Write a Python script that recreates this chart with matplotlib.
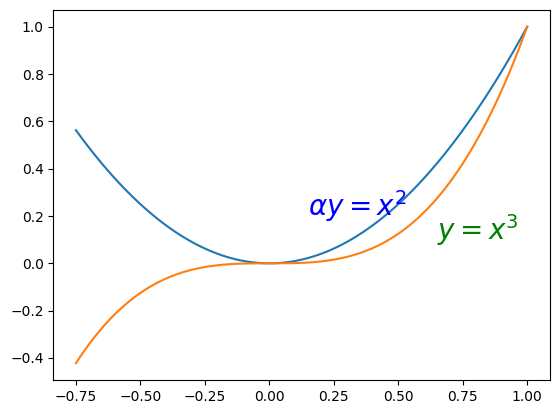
import numpy as np
import matplotlib
matplotlib.use("Agg")
import matplotlib.pyplot as plt

# x samples; curves are the functions named in the chart's labels
x = np.linspace(-0.75, 1, 100)
y_square = x ** 2
y_cube = x ** 3

label_square = r'$\alpha y = x^2$'
label_cube = r'$y = x^3$'

fig = plt.figure(figsize=(5.59, 4.13), dpi=100)
ax = fig.add_axes([0.0955, 0.080, 0.888, 0.896])
ax.plot(x, y_square)
ax.plot(x, y_cube)
ax.text(0.15, 0.2, label_square, fontsize=20, color='blue')
ax.text(0.65, 0.1, label_cube, fontsize=20, color='green')
fig.savefig("out.png", dpi=100)
